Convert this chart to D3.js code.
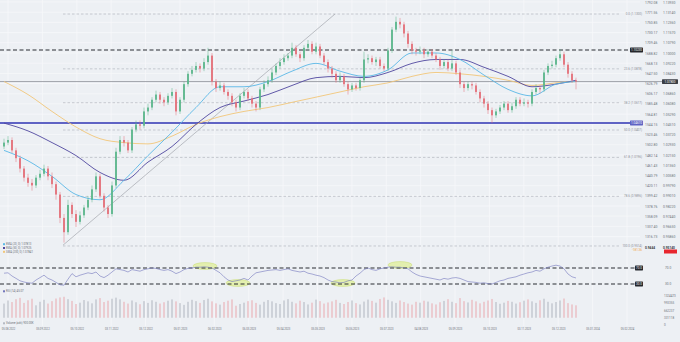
<!DOCTYPE html>
<html>
<head>
<meta charset="utf-8">
<script src="https://cdn.jsdelivr.net/npm/d3@7"></script>
<style>
  body { margin: 0; background: #edf0f4; }
  svg { display: block; font-family: Roboto, "DejaVu Sans", sans-serif; }
</style>
</head>
<body>
<svg id="chart" width="680" height="342"></svg>
<script>
// candles (one per 4px), open = previous close
const firstOpen = 1.028;
const closes = [
  1.031,1.033,1.025,1.019,1.011,1.004,1.000,0.998,1.004,1.007,1.011,1.005,
  0.999,0.991,0.973,0.962,0.983,0.976,0.970,0.975,0.981,0.987,0.995,1.005,
  0.990,0.981,0.976,0.998,1.024,1.033,1.031,1.025,1.041,1.045,1.044,1.055,
  1.058,1.064,1.068,1.064,1.062,1.067,1.070,1.055,1.064,1.076,1.084,1.087,
  1.090,1.088,1.093,1.098,1.078,1.073,1.075,1.070,1.067,1.062,1.058,1.067,
  1.070,1.065,1.061,1.058,1.072,1.076,1.079,1.085,1.090,1.093,1.096,1.098,
  1.104,1.099,1.096,1.104,1.107,1.101,1.105,1.098,1.093,1.088,1.084,1.079,
  1.082,1.076,1.072,1.075,1.073,1.079,1.095,1.096,1.093,1.095,1.090,1.088,
  1.102,1.118,1.124,1.122,1.115,1.107,1.102,1.101,1.102,1.099,1.101,1.098,
  1.095,1.090,1.093,1.088,1.092,1.085,1.076,1.073,1.076,1.075,1.070,1.065,
  1.061,1.056,1.052,1.055,1.058,1.061,1.056,1.059,1.064,1.061,1.062,1.061,
  1.070,1.073,1.072,1.085,1.090,1.091,1.096,1.099,1.091,1.084,1.079,1.078
];
const highs = [
  1.034,1.036,1.035,1.027,1.021,1.013,1.007,1.003,1.006,1.010,1.014,1.013,
  1.008,1.001,0.993,0.976,0.987,0.985,0.979,0.978,0.983,0.990,0.998,1.008,
  1.007,0.992,0.983,1.001,1.027,1.036,1.036,1.033,1.043,1.048,1.048,1.058,
  1.061,1.066,1.071,1.070,1.066,1.069,1.073,1.072,1.066,1.078,1.086,1.090,
  1.093,1.092,1.096,1.104,1.100,1.080,1.078,1.077,1.072,1.069,1.064,1.069,
  1.073,1.072,1.067,1.063,1.074,1.079,1.082,1.088,1.092,1.096,1.099,1.100,
  1.108,1.106,1.101,1.106,1.110,1.109,1.108,1.107,1.100,1.095,1.090,1.086,
  1.085,1.084,1.078,1.077,1.077,1.081,1.101,1.099,1.098,1.097,1.097,1.092,
  1.104,1.120,1.128,1.127,1.124,1.117,1.109,1.104,1.105,1.104,1.103,1.103,
  1.100,1.097,1.095,1.095,1.102,1.094,1.087,1.078,1.078,1.078,1.077,1.072,
  1.067,1.063,1.058,1.057,1.060,1.063,1.063,1.062,1.066,1.066,1.065,1.064,
  1.072,1.076,1.075,1.087,1.092,1.094,1.098,1.103,1.101,1.093,1.086,1.081
];
const lows = [
  1.026,1.029,1.023,1.016,1.008,1.001,0.997,0.994,0.996,1.002,1.005,1.002,
  0.996,0.987,0.969,0.954,0.960,0.973,0.966,0.968,0.973,0.979,0.985,0.993,
  0.988,0.978,0.973,0.974,0.996,1.022,1.028,1.023,1.023,1.039,1.041,1.042,
  1.052,1.056,1.062,1.061,1.059,1.060,1.065,1.052,1.053,1.062,1.074,1.082,
  1.085,1.085,1.086,1.091,1.075,1.070,1.071,1.068,1.064,1.059,1.055,1.056,
  1.065,1.063,1.058,1.055,1.056,1.070,1.074,1.077,1.083,1.088,1.091,1.094,
  1.096,1.097,1.093,1.094,1.102,1.099,1.099,1.096,1.091,1.085,1.081,1.077,
  1.077,1.074,1.068,1.070,1.071,1.071,1.077,1.092,1.091,1.090,1.088,1.086,
  1.086,1.100,1.116,1.119,1.112,1.104,1.099,1.098,1.099,1.096,1.097,1.096,
  1.093,1.087,1.088,1.086,1.086,1.083,1.073,1.070,1.071,1.072,1.068,1.062,
  1.058,1.053,1.046,1.050,1.053,1.056,1.054,1.054,1.057,1.059,1.059,1.058,
  1.059,1.068,1.069,1.070,1.083,1.088,1.089,1.094,1.089,1.081,1.077,1.072
];
const rsi = [
  57,58,50,44,38,35,33,32,40,46,52,44,
  40,34,28,27,42,56,48,52,55,58,56,60,
  50,46,52,60,68,66,64,60,66,64,62,66,
  68,70,69,66,64,66,62,56,60,66,69,70,
  72,72,73,72,70,64,58,48,40,36,38,40,
  44,40,50,58,60,62,64,65,66,64,66,68,
  64,62,60,62,57,55,52,50,46,40,36,35,
  33,34,38,40,50,57,66,70,66,64,68,70,
  72,73,72,72,70,68,60,54,50,48,46,44,
  42,40,44,42,45,46,44,40,36,35,34,32,
  33,31,30,34,38,40,44,46,48,52,55,58,
  60,64,62,68,72,75,77,75,68,55,48,45
];
// volume in thousands
const volumes = [
  980,1120,1050,1180,1240,1010,1130,1200,900,1060,1150,980,
  1090,1210,1260,1290,1180,1100,960,1020,1140,1080,990,1170,
  1230,1050,1110,1200,1250,1170,1060,980,1120,1040,950,1090,
  1010,1130,1060,980,1040,1110,1170,1080,1000,920,1060,1150,
  1090,1010,1140,1200,1080,990,930,1050,1110,1170,880,960,
  1020,1090,1130,1010,930,1060,1140,1080,1000,960,1120,1180,
  1060,990,1110,1050,940,1020,1160,1090,980,1030,1080,1150,
  1010,960,1050,1120,1000,940,1070,1160,1100,1020,1190,1260,
  1150,1080,1010,1120,1050,980,930,1060,1020,1110,1070,990,
  940,1040,1100,1180,1060,1000,1230,1090,1030,1150,1080,990,
  1060,1120,1190,1050,970,1020,1100,1060,980,1040,1110,1170,
  1080,1010,1130,1200,1060,990,1050,1120,1210,1000,940,900
];

// moving averages, read at every 6th candle
const maIdx  = [0,6,12,18,24,30,36,42,48,54,60,66,72,78,84,90,96,102,108,114,120,126,132,138,143];
const ema20  = [1.025,1.017,1.005,0.991,0.987,1.002,1.021,1.039,1.058,1.074,1.074,1.078,1.086,1.092,1.086,1.082,1.087,1.100,1.100,1.095,1.083,1.072,1.067,1.076,1.078];
const ema50  = [1.046,1.040,1.031,1.021,1.008,1.002,1.016,1.028,1.045,1.058,1.063,1.068,1.075,1.081,1.082,1.081,1.085,1.092,1.095,1.095,1.089,1.082,1.074,1.076,1.079];
const sma200 = [1.078,1.068,1.055,1.043,1.034,1.031,1.030,1.036,1.045,1.051,1.055,1.058,1.062,1.066,1.070,1.074,1.077,1.082,1.085,1.084,1.082,1.079,1.075,1.077,1.078];

// levels
const fibRatios = [0, 23.6, 38.2, 50, 61.8, 78.6, 100];
const fibPrices = [1.1300, 1.0878, 1.0617, 1.0407, 1.0196, 0.9896, 0.9514];
const resistance = 1.1023;
const support = 1.0461;
const trendIdx = [14.75, 82.75];
const trendPrice = [0.952, 1.130];

// tick labels
const priceTicks = [1.1393,1.1314,1.1236,1.1157,1.1079,1.1000,1.0922,1.0843,1.0765,1.0686,1.0608,1.0529,
                    1.0451,1.0372,1.0293,1.0215,1.0136,1.0058,0.9979,0.9901,0.9822,0.9744,0.9665,0.9586];
const pointLabels = ["1792.08","1771.56","1750.85","1730.17","1709.46","1688.82","1668.13","1647.50","1626.79","1606.17",
                     "1585.48","1564.81","1544.15","1523.46","1502.80","1482.14","1461.43","1440.79","1420.11","1399.42",
                     "1378.76","1358.09","1337.40","1316.73"];
const dateLabels = ["05.08.2022","05.09.2022","05.10.2022","03.11.2022","05.12.2022","05.01.2023","06.02.2023",
                    "06.03.2023","05.04.2023","05.05.2023","05.06.2023","05.07.2023","04.08.2023","05.09.2023",
                    "05.10.2023","03.11.2023","05.12.2023","05.01.2024","05.02.2024"];
const rsiLevels = [70, 30];
const volTicks = [1324473, 993355, 662237, 331118, 0];
const highlightIdx = [50.25, 58.5, 84.75, 99];
const highlightRsi = [75, 32.5, 32.5, 77.5];

const svg = d3.select("#chart");

var x = d3.scaleLinear().domain([0, closes.length - 1]).range([4, 576]);
var y = d3.scaleLinear().domain([0.9483, 1.1408]).range([250, 0]);
var yR = d3.scaleLinear().domain([0, 100]).range([296, 256]);
var yV = d3.scaleLinear().domain([0, 1324.473]).range([325, 296]);
var xd = d3.scalePoint().domain(dateLabels).range([8, 627]);

const last = closes[closes.length - 1];

// background grid
svg.append("g").selectAll("line").data(dateLabels).enter().append("line")
  .attr("x1", d => xd(d)).attr("x2", d => xd(d)).attr("y1", 0).attr("y2", 326)
  .attr("stroke", "#f5f6f9").attr("stroke-width", 1);
svg.append("g").selectAll("line").data(priceTicks).enter().append("line")
  .attr("x1", 0).attr("x2", 640).attr("y1", d => y(d)).attr("y2", d => y(d))
  .attr("stroke", "#f6f7fa").attr("stroke-width", 0.8);

// fibonacci levels
svg.append("g").selectAll("line").data(fibPrices).enter().append("line")
  .attr("x1", x(trendIdx[0])).attr("x2", 620).attr("y1", d => y(d)).attr("y2", d => y(d))
  .attr("stroke", "#b4b8c0").attr("stroke-width", 0.7).attr("stroke-dasharray", "2.5,2");
svg.append("g").selectAll("text").data(fibPrices).enter().append("text")
  .attr("x", 642).attr("y", d => y(d) + 1)
  .attr("text-anchor", "end").style("font-size", "3px").attr("fill", "#8a8e96")
  .text((d, i) => fibRatios[i].toFixed(1) + " (" + d.toFixed(4) + ")");

// horizontal levels
svg.append("line").attr("x1", 0).attr("x2", 630).attr("y1", y(resistance)).attr("y2", y(resistance))
  .attr("stroke", "#2b2d33").attr("stroke-width", 1.2).attr("stroke-dasharray", "4,2.5");
svg.append("line").attr("x1", 0).attr("x2", 630).attr("y1", y(support)).attr("y2", y(support))
  .attr("stroke", "#5f63c4").attr("stroke-width", 1.8);
svg.append("line").attr("x1", 0).attr("x2", 662).attr("y1", y(last)).attr("y2", y(last))
  .attr("stroke", "#8e9198").attr("stroke-width", 0.8);

// trend line
svg.append("line")
  .attr("x1", x(trendIdx[0])).attr("y1", y(trendPrice[0]))
  .attr("x2", x(trendIdx[1])).attr("y2", y(trendPrice[1]))
  .attr("stroke", "#a3a6ae").attr("stroke-width", 0.7);

// moving averages
function maLine(vals, color) {
  svg.append("path")
    .datum(vals)
    .attr("fill", "none").attr("stroke", color).attr("stroke-width", 0.9)
    .attr("d", d3.line().x((d, i) => x(maIdx[i])).y(d => y(d)).curve(d3.curveMonotoneX));
}
maLine(sma200, "#f2c679");
maLine(ema50, "#50479f");
maLine(ema20, "#5ab8e6");

// candles
var candles = closes.map(function(c, i) {
  return { i: i, o: i === 0 ? firstOpen : closes[i - 1], c: c, h: highs[i], l: lows[i], v: volumes[i] };
});
const up = "#5bb68b", down = "#e46f79";
var cg = svg.append("g");
cg.selectAll("line").data(candles).enter().append("line")
  .attr("x1", d => x(d.i)).attr("x2", d => x(d.i))
  .attr("y1", d => y(d.h)).attr("y2", d => y(d.l))
  .attr("stroke", d => d.c >= d.o ? up : down).attr("stroke-width", 0.5);
cg.selectAll("rect").data(candles).enter().append("rect")
  .attr("x", d => x(d.i) - 0.9).attr("width", 1.8)
  .attr("y", d => y(Math.max(d.o, d.c)))
  .attr("height", d => Math.max(0.7, Math.abs(y(d.o) - y(d.c))))
  .attr("fill", d => d.c >= d.o ? up : down);

// right price axis, two columns (the tick under the last-price tag is hidden by it)
var rightTicks = priceTicks.filter(d => Math.abs(y(d) - y(last)) > 4);
var axR = svg.append("g").attr("transform", "translate(663,0)")
  .call(d3.axisRight(y).tickValues(rightTicks).tickSize(0).tickPadding(0).tickFormat(d3.format(".5f")));
axR.select(".domain").remove();
axR.selectAll("text").style("font-size", "3.4px").attr("fill", "#6f737b").attr("font-family", "Roboto");
var axL = svg.append("g").attr("transform", "translate(645,0)")
  .call(d3.axisRight(y).tickValues(priceTicks).tickSize(0).tickPadding(0).tickFormat((d, i) => pointLabels[i]));
axL.select(".domain").remove();
axL.selectAll("text").style("font-size", "3.4px").attr("fill", "#6f737b").attr("font-family", "Roboto");

// price tags
function tag(x0, w, yy, fill, label) {
  svg.append("rect").attr("x", x0).attr("y", yy - 2.4).attr("width", w).attr("height", 4.8).attr("rx", 0.6).attr("fill", fill);
  svg.append("text").attr("x", x0 + w / 2).attr("y", yy + 1.1).attr("text-anchor", "middle")
    .style("font-size", "3px").attr("fill", "#fff").text(label);
}
tag(630, 13, y(resistance), "#25272c", resistance.toFixed(5));
tag(630, 13, y(support), "#5f63c4", support.toFixed(5));
tag(662, 16, y(last), "#3a3d44", last.toFixed(5));

// bottom row of price pane
svg.append("text").attr("x", 645).attr("y", 249).style("font-size", "3.2px").attr("fill", "#33363c").attr("font-weight", "bold").text("0.9444");
svg.append("text").attr("x", 663).attr("y", 249).style("font-size", "3.2px").attr("fill", "#33363c").attr("font-weight", "bold").text("0.95140");
svg.append("text").attr("x", 642).attr("y", 251).attr("text-anchor", "end").style("font-size", "3px").attr("fill", "#f0a040").text("-181.36");
svg.append("rect").attr("x", 664).attr("y", 249.5).attr("width", 13).attr("height", 4).attr("fill", "#e8262e");

// legend of price pane
const legendNames = ["EMA (20, 0) 1.07813", "EMA (50, 0) 1.07925", "SMA (200, 0) 1.07841"];
const legendColors = ["#5ab8e6", "#50479f", "#f2c679"];
legendNames.forEach(function(t, i) {
  svg.append("rect").attr("x", 3).attr("y", 243.2 + i * 3.8).attr("width", 2).attr("height", 2).attr("fill", legendColors[i]);
  svg.append("text").attr("x", 6).attr("y", 245.2 + i * 3.8).style("font-size", "2.8px").attr("fill", "#6a6e76").text(t);
});

// RSI pane
svg.append("g").selectAll("ellipse").data(highlightIdx).enter().append("ellipse")
  .attr("cx", d => x(d)).attr("cy", (d, i) => yR(highlightRsi[i]))
  .attr("rx", 12).attr("ry", 3.4)
  .attr("fill", "#e0eea2").attr("fill-opacity", 0.85).attr("stroke", "#c9dc74").attr("stroke-width", 0.5);
svg.append("g").selectAll("line").data(rsiLevels).enter().append("line")
  .attr("x1", 0).attr("x2", 635).attr("y1", d => yR(d)).attr("y2", d => yR(d))
  .attr("stroke", "#2b2d33").attr("stroke-width", 1.1).attr("stroke-dasharray", "4,2.5");
svg.append("path").datum(rsi)
  .attr("fill", "none").attr("stroke", "#7377bd").attr("stroke-width", 0.6)
  .attr("d", d3.line().x((d, i) => x(i)).y(d => yR(d)));
rsiLevels.forEach(function(l) {
  tag(635, 8, yR(l), "#25272c", l.toFixed(1));
  svg.append("text").attr("x", 665).attr("y", yR(l) + 1).style("font-size", "3.2px").attr("fill", "#6f737b").text(l.toFixed(1));
});
svg.append("rect").attr("x", 3).attr("y", 290.3).attr("width", 2).attr("height", 2).attr("fill", "#7377bd");
svg.append("text").attr("x", 6).attr("y", 292.3).style("font-size", "2.8px").attr("fill", "#6a6e76").text("RSI (14) 45.07");

// volume pane
svg.append("g").selectAll("rect").data(candles).enter().append("rect")
  .attr("x", d => x(d.i) - 0.55).attr("width", 1.1)
  .attr("y", d => yV(d.v)).attr("height", d => yV(331.118) - yV(d.v))
  .attr("fill", d => d.c >= d.o ? "#b6bac3" : "#eab0b6");
svg.append("g").selectAll("text").data(volTicks).enter().append("text")
  .attr("x", 664).attr("y", d => yV(d / 1000) + 1)
  .style("font-size", "3px").attr("fill", "#6f737b").text(d => d);
svg.append("rect").attr("x", 3).attr("y", 322.3).attr("width", 2).attr("height", 2).attr("fill", "#b6bac3");
svg.append("text").attr("x", 6).attr("y", 324.3).style("font-size", "2.8px").attr("fill", "#6a6e76").text("Volume (adv) 900.00K");

// date axis
var axD = svg.append("g").attr("transform", "translate(0,328)")
  .call(d3.axisBottom(xd).tickSize(0).tickPadding(0));
axD.select(".domain").remove();
axD.selectAll("text").style("font-size", "2.7px").attr("fill", "#6f737b").attr("font-family", "Roboto");
</script>
</body>
</html>
